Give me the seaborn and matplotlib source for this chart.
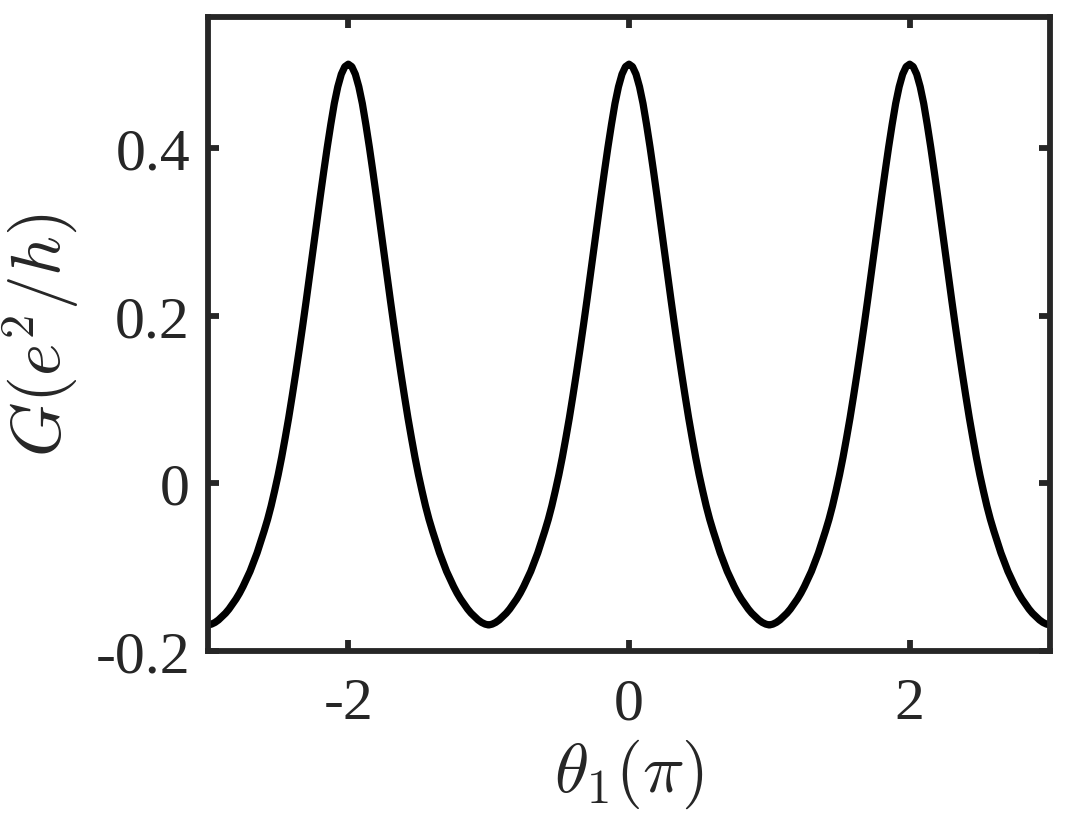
import numpy as np
import matplotlib
matplotlib.use("Agg")
import matplotlib.pyplot as plt
import seaborn as sns

# theta_1 in units of pi, step 0.025 from -3 to 3
theta = np.round(np.linspace(-3.0, 3.0, 241), 3)

# conductance G in e^2/h (20 values per row = 0.5 pi)
G = [
    # -3.0 .. -2.025
    -0.169, -0.168, -0.166, -0.163, -0.159, -0.155, -0.150, -0.144, -0.138, -0.131,
    -0.123, -0.114, -0.105, -0.094, -0.083, -0.070, -0.057, -0.043, -0.027, -0.009,
    0.010, 0.031, 0.054, 0.078, 0.104, 0.131, 0.159, 0.188, 0.218, 0.249,
    0.280, 0.311, 0.342, 0.372, 0.401, 0.428, 0.453, 0.473, 0.488, 0.497,
    # -2.0 .. -1.025
    0.500, 0.497, 0.488, 0.473, 0.453, 0.428, 0.401, 0.372, 0.342, 0.311,
    0.280, 0.249, 0.218, 0.188, 0.159, 0.131, 0.104, 0.078, 0.054, 0.031,
    0.010, -0.009, -0.027, -0.043, -0.057, -0.070, -0.083, -0.094, -0.105, -0.114,
    -0.123, -0.131, -0.138, -0.144, -0.150, -0.155, -0.159, -0.163, -0.166, -0.168,
    # -1.0 .. -0.025
    -0.169, -0.168, -0.166, -0.163, -0.159, -0.155, -0.150, -0.144, -0.138, -0.131,
    -0.123, -0.114, -0.105, -0.094, -0.083, -0.070, -0.057, -0.043, -0.027, -0.009,
    0.010, 0.031, 0.054, 0.078, 0.104, 0.131, 0.159, 0.188, 0.218, 0.249,
    0.280, 0.311, 0.342, 0.372, 0.401, 0.428, 0.453, 0.473, 0.488, 0.497,
    # 0.0 .. 0.975
    0.500, 0.497, 0.488, 0.473, 0.453, 0.428, 0.401, 0.372, 0.342, 0.311,
    0.280, 0.249, 0.218, 0.188, 0.159, 0.131, 0.104, 0.078, 0.054, 0.031,
    0.010, -0.009, -0.027, -0.043, -0.057, -0.070, -0.083, -0.094, -0.105, -0.114,
    -0.123, -0.131, -0.138, -0.144, -0.150, -0.155, -0.159, -0.163, -0.166, -0.168,
    # 1.0 .. 1.975
    -0.169, -0.168, -0.166, -0.163, -0.159, -0.155, -0.150, -0.144, -0.138, -0.131,
    -0.123, -0.114, -0.105, -0.094, -0.083, -0.070, -0.057, -0.043, -0.027, -0.009,
    0.010, 0.031, 0.054, 0.078, 0.104, 0.131, 0.159, 0.188, 0.218, 0.249,
    0.280, 0.311, 0.342, 0.372, 0.401, 0.428, 0.453, 0.473, 0.488, 0.497,
    # 2.0 .. 3.0
    0.500, 0.497, 0.488, 0.473, 0.453, 0.428, 0.401, 0.372, 0.342, 0.311,
    0.280, 0.249, 0.218, 0.188, 0.159, 0.131, 0.104, 0.078, 0.054, 0.031,
    0.010, -0.009, -0.027, -0.043, -0.057, -0.070, -0.083, -0.094, -0.105, -0.114,
    -0.123, -0.131, -0.138, -0.144, -0.150, -0.155, -0.159, -0.163, -0.166, -0.168,
    -0.169,
]

x_ticks = [-2, 0, 2]
x_ticklabels = ["-2", "0", "2"]
y_ticks = [-0.2, 0, 0.2, 0.4]
y_ticklabels = ["-0.2", "0", "0.2", "0.4"]

sns.set_theme(style="ticks")
plt.rcParams['font.family'] = ['Liberation Serif', 'DejaVu Serif']
plt.rcParams['mathtext.fontset'] = 'cm'
plt.rcParams['axes.unicode_minus'] = False

ink = '#262626'
fig = plt.figure(figsize=(10.72, 8.28), dpi=100)
ax = fig.add_axes([0.194, 0.2126, 0.7855, 0.7654])

sns.lineplot(x=theta, y=G, color='black', linewidth=5.2, ax=ax,
             solid_joinstyle='round', solid_capstyle='butt')

ax.set_xlim(-3, 3)
ax.set_ylim(-0.2, 0.556)
ax.set_xticks(x_ticks)
ax.set_xticklabels(x_ticklabels)
ax.set_yticks(y_ticks)
ax.set_yticklabels(y_ticklabels)

for side in ['left', 'right', 'top', 'bottom']:
    ax.spines[side].set_visible(True)
    ax.spines[side].set_linewidth(4.2)
    ax.spines[side].set_color(ink)

ax.tick_params(direction='in', length=8, width=4.2, color=ink,
               top=True, right=True, labelsize=43, labelcolor=ink)
ax.tick_params(axis='x', pad=19)
ax.tick_params(axis='y', pad=13)

ax.set_xlabel(r'$\theta_1(\pi)$', fontsize=50, color=ink, labelpad=4)
ax.set_ylabel(r'$G(e^2/h)$', fontsize=50, color=ink, labelpad=10)

fig.savefig('out.png', dpi=100)
